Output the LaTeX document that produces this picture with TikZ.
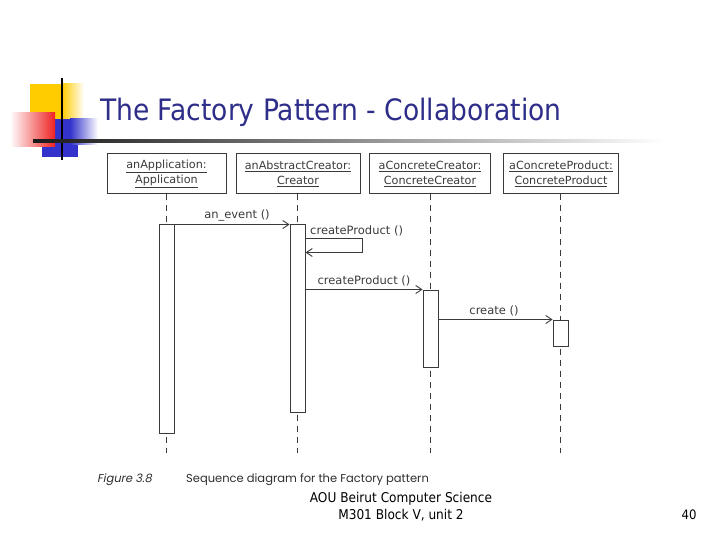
\documentclass[tikz,border=0pt]{standalone}
\usepackage{fontspec}
\usetikzlibrary{arrows.meta,calc}
\newfontfamily\titlefont{DejaVu Sans Condensed}
\newfontfamily\footfont{DejaVu Sans Condensed}
\newfontfamily\umlfont{DejaVu Sans}
\newfontfamily\capfont{Poppins}
\newfontfamily\capitfont{Poppins}[FakeSlant=0.2]
\definecolor{titleblue}{HTML}{2E2E8A}
\definecolor{logoyellow}{HTML}{FFCC00}
\definecolor{logored}{HTML}{EE2222}
\definecolor{logoblue}{HTML}{3333CC}
\definecolor{umlgray}{HTML}{3A3A3A}
\tikzset{
  objbox/.style={draw=umlgray, line width=1pt, minimum height=40pt, align=center,
    inner sep=1pt, font=\umlfont\fontsize{11.2}{15.5}\selectfont, text=umlgray},
  actbar/.style={draw=umlgray, line width=1pt, fill=white, minimum width=15pt, inner sep=0pt},
  lifeline/.style={draw=umlgray, line width=0.9pt, dash pattern=on 6pt off 5pt},
  msg/.style={draw=umlgray, line width=0.9pt, -{Straight Barb[length=6pt,width=8pt]}},
  msglabel/.style={font=\umlfont\fontsize{11.5}{13}\selectfont, text=umlgray, inner sep=0pt}
}
\begin{document}
\begin{tikzpicture}[x=1pt,y=-1pt]
\useasboundingbox (0,0) rectangle (720,540);
% logo
\fill[logoyellow] (30,84) rectangle (62,119);
\shade[left color=logoyellow, right color=white] (62,84) rectangle (84,119);
\fill[logoblue] (42,119) rectangle (78,157);
\shade[left color=logoblue, right color=white] (70,119) rectangle (98,145);
\shade[left color=white, right color=logored] (10,113) rectangle (55,147);
\draw[black, line width=2.5pt] (62,78) -- (62,160);
\shade[left color=black!90, middle color=black!45, right color=white] (33,139.8) rectangle (665,142.6);
% title
\node[anchor=base west, inner sep=0pt, text=titleblue, font=\titlefont\fontsize{29.5}{34}\selectfont] (title) at (100,121) {The Factory Pattern - Collaboration};
% objects
\node[objbox, minimum width=119pt] (o1) at (166.5,174) {\underline{anApplication:}\\\underline{Application}};
\node[objbox, minimum width=124pt] (o2) at (298,174) {\underline{anAbstractCreator:}\\\underline{Creator}};
\node[objbox, minimum width=121pt] (o3) at (430,174) {\underline{aConcreteCreator:}\\\underline{ConcreteCreator}};
\node[objbox, minimum width=115pt] (o4) at (561,174) {\underline{aConcreteProduct:}\\\underline{ConcreteProduct}};
\coordinate (e1) at (166.5,453);
\coordinate (e2) at (297.5,453);
\coordinate (e3) at (430.5,453);
\coordinate (e4) at (560.5,453);
\draw[lifeline] (o1.south) -- (e1);
\draw[lifeline] (o2.south -| e2) -- (e2);
\draw[lifeline] (o3.south -| e3) -- (e3);
\draw[lifeline] (o4.south -| e4) -- (e4);
% activation bars
\node[actbar, minimum height=208pt] (a1) at (166.5,329) {};
\node[actbar, minimum height=187pt] (a2) at (297.5,318.5) {};
\node[actbar, minimum height=77pt] (a3) at (430.5,328.5) {};
\node[actbar, minimum height=26pt] (a4) at (560.5,333) {};
% messages
\draw[msg] (a1.north east) -- (a2.north west);
\node[msglabel] (l1) at (237,215) {an\_event ()};
\coordinate (s1) at ($(a2.north east)+(0,14)$);
\coordinate (s2) at ($(s1)+(57,0)$);
\coordinate (s3) at ($(s2)+(0,14)$);
\coordinate (s4) at ($(s3)+(-57,0)$);
\draw[msg] (s1) -- (s2) -- (s3) -- (s4);
\node[msglabel, anchor=west] (l2) at (310,231) {createProduct ()};
\draw[msg] (a2.east |- a3.north) -- (a3.north west);
\node[msglabel] (l3) at (364,281) {createProduct ()};
\draw[msg] (a3.east |- a4.north) -- (a4.north west);
\node[msglabel] (l4) at (494,311) {create ()};
% caption
\node[anchor=west, inner sep=0pt, text=black!82, font=\capitfont\fontsize{11.5}{13}\selectfont] (fig) at (97,480) {Figure 3.8};
\node[anchor=west, inner sep=0pt, text=black!82, font=\capfont\fontsize{11.5}{13}\selectfont] (cap) at (186,480) {Sequence diagram for the Factory pattern};
% footer
\node[align=center, inner sep=0pt, font=\footfont\fontsize{13.5}{17}\selectfont] (foot) at (401,507) {AOU Beirut Computer Science\\M301 Block V, unit 2};
\node[inner sep=0pt, font=\footfont\fontsize{13}{14}\selectfont] (page) at (689,515) {40};
\end{tikzpicture}
\end{document}
